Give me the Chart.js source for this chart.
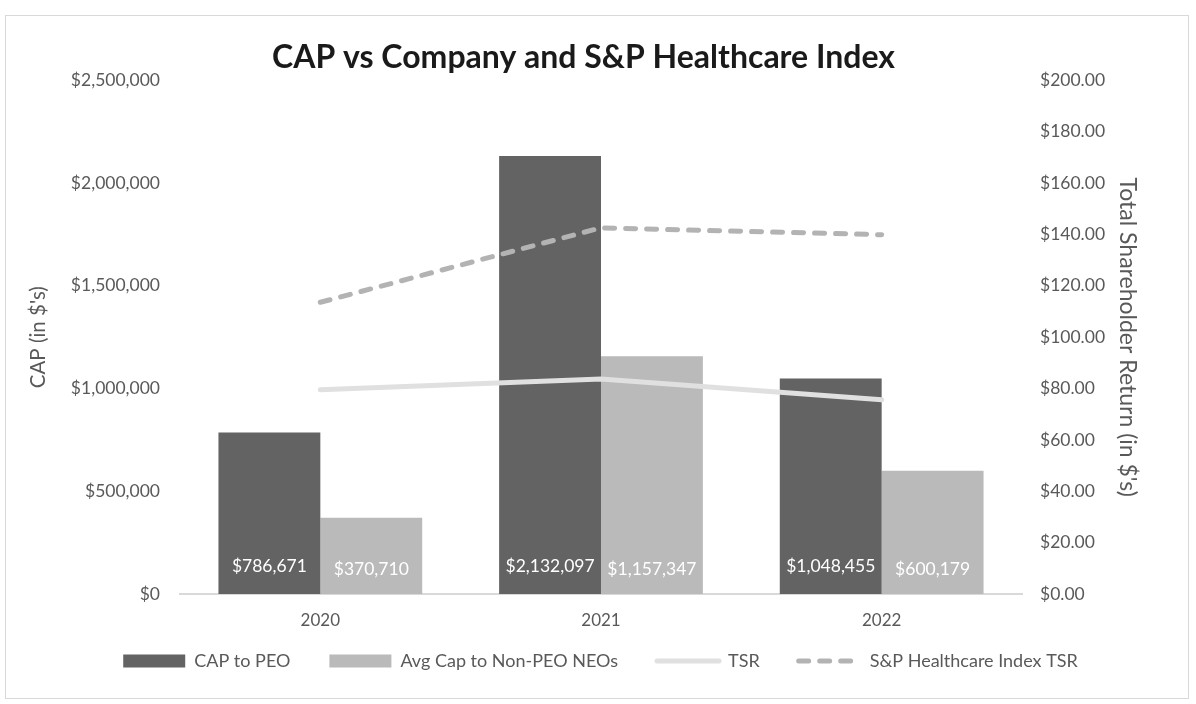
<!DOCTYPE html>
<html>
<head>
<meta charset="utf-8">
<script src="https://cdn.jsdelivr.net/npm/chart.js@4.4.0/dist/chart.umd.min.js"></script>
<style>
  html, body { margin: 0; padding: 0; background: #fff; }
  #wrap { position: absolute; left: 0; top: 0; width: 1196px; height: 704px; }
  #frame { position: absolute; left: 5px; top: 15px; width: 1182px; height: 682px; border: 1px solid #d9d9d9; }
</style>
</head>
<body>
<div id="frame"></div>
<div id="wrap"><canvas id="chart" width="1196" height="704"></canvas></div>
<script>
// DATA
const years = ['2020', '2021', '2022'];
const capPeo = [786671, 2132097, 1048455];
const capNeo = [370710, 1157347, 600179];
const tsr = [79.5, 83.7, 75.6];
const spTsr = [113.6, 142.6, 139.9];

const FONT = 'Lato, "Open Sans", sans-serif';
const GREY = '#595959';

const money = v => '$' + Math.round(v).toLocaleString('en-US');

// BAR LABELS (white, near the base)
const barLabels = {
  id: 'barLabels',
  afterDatasetsDraw(chart) {
    const ctx = chart.ctx;
    ctx.save();
    ctx.fillStyle = '#ffffff';
    ctx.font = '17.5px ' + FONT;
    ctx.textAlign = 'center';
    ctx.textBaseline = 'middle';
    [0, 1].forEach(i => {
      const meta = chart.getDatasetMeta(i);
      meta.data.forEach((bar, j) => {
        const y = i === 0 ? bar.base - 28 : bar.base - 25;
        ctx.fillText(money(chart.data.datasets[i].data[j]), bar.x, y);
      });
    });
    ctx.restore();
  }
};

// legend needs wide gaps between items but sits close under the axis
const legendLift = {
  id: 'legendLift',
  beforeDraw(chart) {
    const lg = chart.legend;
    if (!lg._lifted) {
      lg.top -= 19;
      lg.bottom -= 19;
      lg.left += 17;
      lg.right += 17;
      lg._lifted = true;
    }
  }
};

const ctx = document.getElementById('chart').getContext('2d');
new Chart(ctx, {
  data: {
    labels: years,
    datasets: [
      { type: 'bar', label: 'CAP to PEO', data: capPeo, backgroundColor: '#636363',
        yAxisID: 'y', order: 2, pointStyle: 'rect' },
      { type: 'bar', label: 'Avg Cap to Non-PEO NEOs', data: capNeo, backgroundColor: '#bababa',
        yAxisID: 'y', order: 2, pointStyle: 'rect' },
      { type: 'line', label: 'TSR', data: tsr, borderColor: '#e0e0e0', backgroundColor: '#e0e0e0',
        borderWidth: 5, borderCapStyle: 'round', pointRadius: 0, yAxisID: 'y1', order: 1,
        pointStyle: 'line' },
      { type: 'line', label: 'S&P Healthcare Index TSR', data: spTsr, borderColor: '#b3b3b3',
        backgroundColor: '#b3b3b3', borderWidth: 5, borderDash: [10, 11], borderCapStyle: 'round',
        pointRadius: 0, yAxisID: 'y1', order: 1, pointStyle: 'line' }
    ]
  },
  options: {
    responsive: false,
    animation: false,
    layout: { padding: { top: 16, bottom: 5, left: 22, right: 51 } },
    datasets: { bar: { barPercentage: 1, categoryPercentage: 0.726 } },
    plugins: {
      title: {
        display: true,
        text: 'CAP vs Company and S&P Healthcare Index',
        color: '#1a1a1a',
        font: { family: FONT, size: 32, weight: 'bold' },
        padding: { top: 22, bottom: 4 }
      },
      legend: {
        position: 'bottom',
        labels: {
          usePointStyle: true,
          pointStyleWidth: 62,
          boxHeight: 13,
          padding: 39,
          color: GREY,
          font: { family: FONT, size: 18 },
          sort: (a, b) => a.datasetIndex - b.datasetIndex,
          generateLabels: chart => {
            const items = Chart.defaults.plugins.legend.labels.generateLabels(chart);
            items.forEach(it => {
              const ds = chart.data.datasets[it.datasetIndex];
              if (ds.type === 'line') {
                it.lineDash = ds.borderDash || [];
                it.lineCap = 'round';
                it.lineWidth = 5;
              }
            });
            return items;
          }
        }
      },
      tooltip: { enabled: false }
    },
    scales: {
      x: {
        grid: { display: false, drawTicks: false },
        border: { color: '#d9d9d9', width: 2 },
        ticks: { color: GREY, font: { family: FONT, size: 17 }, padding: 16 },
        afterFit: s => { s.height = 38; }
      },
      y: {
        position: 'left',
        min: 0, max: 2500000,
        grid: { display: false, drawTicks: false },
        border: { display: false },
        ticks: { stepSize: 500000, color: GREY, font: { family: FONT, size: 17.5 }, padding: 20,
          callback: v => money(v) },
        title: { display: true, text: "CAP (in $'s)", color: GREY, font: { family: FONT, size: 20.5 } },
        afterFit: s => { s.width = 158; }
      },
      y1: {
        position: 'right',
        min: 0, max: 200,
        grid: { display: false, drawTicks: false },
        border: { display: false },
        ticks: { stepSize: 20, color: GREY, font: { family: FONT, size: 17.5 }, padding: 18,
          callback: v => '$' + v.toFixed(2) },
        title: { display: true, text: "Total Shareholder Return (in $'s)", color: GREY,
          font: { family: FONT, size: 23 } },
        afterFit: s => { s.width = 123; }
      }
    }
  },
  plugins: [barLabels, legendLift]
});
</script>
</body>
</html>
